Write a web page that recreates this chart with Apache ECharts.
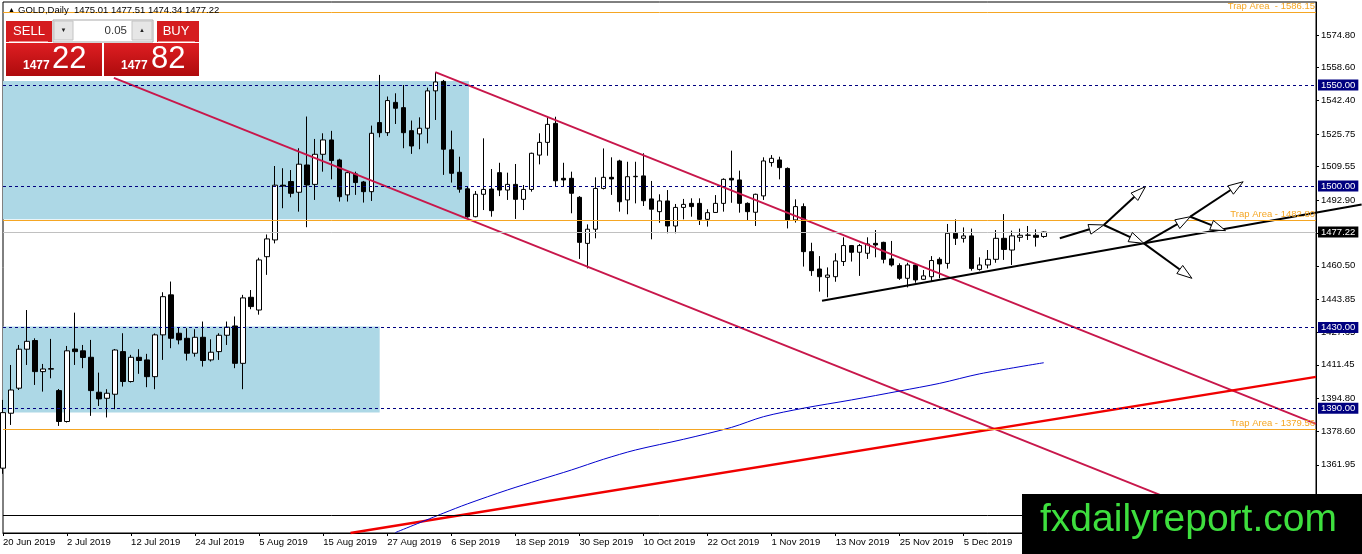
<!DOCTYPE html>
<html lang="en">
<head>
<meta charset="UTF-8">
<title>GOLD,Daily</title>
<script src="https://cdn.jsdelivr.net/npm/echarts@6.0.0/dist/echarts.min.js"></script>
<style>
  html, body { margin: 0; padding: 0; background: #fff; }
  #chart { width: 1362px; height: 554px; }
</style>
</head>
<body>
<div id="chart"></div>
<script>
// trading days on the chart (2019)
var junDays = [20, 21, 24, 25, 26, 27, 28];
var julDays = [1, 2, 3, 4, 5, 8, 9, 10, 11, 12, 15, 16, 17, 18, 19, 22, 23, 24, 25, 26, 29, 30, 31];
var augDays = [1, 2, 5, 6, 7, 8, 9, 12, 13, 14, 15, 16, 19, 20, 21, 22, 23, 26, 27, 28, 29, 30];
var sepDays = [2, 3, 4, 5, 6, 9, 10, 11, 12, 13, 16, 17, 18, 19, 20, 23, 24, 25, 26, 27, 30];
var octDays = [1, 2, 3, 4, 7, 8, 9, 10, 11, 14, 15, 16, 17, 18, 21, 22, 23, 24, 25, 28, 29, 30, 31];
var novDays = [1, 4, 5, 6, 7, 8, 11, 12, 13, 14, 15, 18, 19, 20, 21, 22, 25, 26, 27, 28, 29];
var decDays = [2, 3, 4, 5, 6, 9, 10, 11, 12, 13, 16, 17, 18, 19];
var emptyBarsRight = 34; // chart shift space after the last bar

// daily candles [open, high, low, close]
var ohlc = [
  [1360.3, 1394.1, 1357.5, 1387.8], [1387.5, 1411.4, 1381.7, 1399.0], [1399.9, 1421.3, 1399.0, 1419.2],
  [1419.2, 1438.6, 1411.4, 1423.1], [1423.5, 1424.6, 1401.5, 1408.1], [1408.1, 1411.9, 1398.2, 1409.4],
  [1409.3, 1424.3, 1404.8, 1409.6], [1398.7, 1399.5, 1381.2, 1383.4], [1383.4, 1420.8, 1382.9, 1418.4],
  [1419.3, 1437.3, 1411.4, 1418.0], [1418.4, 1421.3, 1409.8, 1415.1], [1415.2, 1423.8, 1386.2, 1398.7],
  [1397.9, 1407.6, 1391.1, 1394.6], [1394.9, 1399.4, 1385.4, 1397.4], [1396.9, 1419.3, 1389.5, 1418.8],
  [1418.0, 1427.1, 1400.7, 1403.2], [1403.2, 1416.4, 1402.7, 1415.2], [1415.2, 1419.2, 1407.0, 1413.6],
  [1413.9, 1416.9, 1400.4, 1405.6], [1405.6, 1427.0, 1399.4, 1426.3], [1426.3, 1447.4, 1413.9, 1445.2],
  [1446.1, 1452.7, 1419.7, 1424.6], [1427.1, 1430.1, 1421.6, 1423.8], [1424.6, 1429.6, 1413.6, 1417.2],
  [1417.2, 1429.1, 1415.5, 1425.1], [1425.1, 1432.9, 1410.6, 1413.6], [1413.9, 1424.1, 1413.1, 1417.7],
  [1418.0, 1427.1, 1413.9, 1426.1], [1426.1, 1432.9, 1421.3, 1430.1], [1430.7, 1435.4, 1409.8, 1412.2],
  [1412.2, 1446.1, 1399.4, 1444.6], [1444.9, 1448.5, 1439.0, 1440.3], [1438.6, 1464.5, 1436.3, 1463.4],
  [1465.0, 1476.0, 1456.0, 1473.8], [1473.3, 1509.9, 1471.6, 1500.4], [1500.4, 1508.8, 1489.0, 1500.0],
  [1502.2, 1507.9, 1494.4, 1496.4], [1496.9, 1518.7, 1487.3, 1510.8], [1510.4, 1534.4, 1479.6, 1500.5],
  [1500.8, 1523.3, 1493.1, 1515.7], [1515.7, 1526.1, 1507.1, 1522.8], [1522.8, 1527.3, 1503.3, 1512.6],
  [1512.9, 1513.5, 1492.3, 1494.7], [1495.6, 1507.2, 1492.3, 1506.6], [1506.0, 1507.1, 1495.6, 1501.7],
  [1502.0, 1502.5, 1491.8, 1497.2], [1497.2, 1529.9, 1492.6, 1526.1], [1531.4, 1555.0, 1524.1, 1526.4],
  [1526.4, 1544.3, 1524.8, 1542.3], [1541.4, 1545.9, 1530.7, 1538.5], [1538.8, 1550.0, 1518.7, 1526.4],
  [1527.4, 1532.4, 1515.9, 1519.8], [1525.8, 1534.0, 1518.2, 1528.6], [1528.6, 1548.7, 1521.1, 1547.1],
  [1547.1, 1556.3, 1532.7, 1551.5], [1551.8, 1552.5, 1505.5, 1518.2], [1517.9, 1527.4, 1501.7, 1506.3],
  [1506.8, 1514.5, 1496.7, 1498.4], [1498.6, 1500.0, 1484.3, 1484.8], [1484.8, 1497.5, 1484.5, 1495.9],
  [1495.9, 1523.6, 1488.1, 1498.3], [1498.5, 1508.4, 1484.8, 1487.8], [1506.6, 1511.5, 1495.0, 1498.0],
  [1498.0, 1506.6, 1493.1, 1500.8], [1500.8, 1510.9, 1483.7, 1493.4], [1493.4, 1500.5, 1488.1, 1498.3],
  [1498.3, 1516.5, 1497.2, 1516.2], [1515.3, 1526.1, 1510.7, 1521.6], [1521.6, 1534.3, 1515.0, 1530.5],
  [1531.0, 1534.3, 1500.0, 1502.6], [1503.8, 1511.5, 1500.0, 1503.0], [1503.8, 1507.1, 1486.5, 1496.4],
  [1494.4, 1495.0, 1463.9, 1472.1], [1471.6, 1481.0, 1459.2, 1478.6], [1478.6, 1504.3, 1474.1, 1498.8],
  [1498.8, 1518.6, 1498.3, 1504.3], [1504.3, 1514.2, 1495.6, 1503.5], [1512.4, 1513.0, 1487.3, 1492.2],
  [1493.1, 1512.0, 1486.0, 1504.6], [1504.6, 1512.0, 1491.4, 1504.8], [1505.0, 1516.2, 1490.1, 1492.7],
  [1493.6, 1502.5, 1473.6, 1488.5], [1487.3, 1495.9, 1481.8, 1492.6], [1492.6, 1498.0, 1476.6, 1480.2],
  [1480.2, 1491.1, 1476.6, 1489.4], [1489.4, 1493.6, 1483.5, 1490.9], [1491.4, 1493.9, 1484.8, 1489.8],
  [1491.4, 1493.9, 1480.7, 1483.5], [1483.5, 1488.5, 1479.9, 1486.8], [1486.9, 1495.5, 1486.8, 1491.4],
  [1491.4, 1503.8, 1487.3, 1503.3], [1503.8, 1517.5, 1491.7, 1503.0], [1503.0, 1507.6, 1486.8, 1491.4],
  [1491.4, 1491.9, 1483.1, 1487.3], [1487.0, 1496.2, 1480.2, 1495.9], [1495.1, 1514.2, 1493.1, 1512.4],
  [1511.6, 1515.3, 1509.6, 1513.7], [1512.9, 1514.5, 1503.3, 1509.1], [1508.7, 1509.2, 1479.0, 1483.2],
  [1483.2, 1493.4, 1481.9, 1489.8], [1489.8, 1491.4, 1460.1, 1467.5], [1467.5, 1471.9, 1455.5, 1458.1],
  [1458.9, 1465.3, 1447.7, 1455.1], [1454.8, 1459.7, 1444.9, 1455.9], [1455.1, 1466.7, 1452.6, 1462.9],
  [1462.6, 1474.6, 1460.4, 1470.5], [1470.5, 1470.8, 1462.6, 1467.2], [1467.2, 1471.3, 1455.5, 1470.5],
  [1466.7, 1474.6, 1463.9, 1471.3], [1471.6, 1478.2, 1464.7, 1470.8], [1472.1, 1472.4, 1461.7, 1463.7],
  [1463.9, 1472.8, 1460.1, 1460.9], [1460.6, 1461.7, 1453.5, 1454.3], [1454.3, 1462.0, 1449.8, 1460.9],
  [1460.9, 1461.7, 1452.1, 1453.5], [1453.8, 1458.4, 1453.5, 1455.5], [1455.1, 1465.3, 1452.6, 1463.1],
  [1463.7, 1464.7, 1454.3, 1461.4], [1461.7, 1481.2, 1459.1, 1476.6], [1476.6, 1483.5, 1470.8, 1474.1],
  [1474.1, 1479.5, 1472.0, 1475.3], [1475.3, 1478.9, 1458.1, 1459.2], [1458.7, 1464.7, 1458.1, 1460.9],
  [1460.9, 1468.3, 1459.2, 1463.7], [1463.7, 1478.2, 1462.0, 1474.1], [1474.1, 1486.1, 1463.4, 1468.6],
  [1468.3, 1477.9, 1460.9, 1475.3], [1474.6, 1478.9, 1472.4, 1475.6], [1475.6, 1480.2, 1473.3, 1475.7],
  [1475.6, 1478.5, 1470.0, 1474.6], [1475.01, 1477.51, 1474.34, 1477.22]
];

// moving average, read at a few bars [bar, price]
var maPoints = [
  [49, 1328.4], [55, 1338.0], [58, 1342.6], [63, 1349.5], [67, 1354.5], [71, 1359.4],
  [75, 1364.7], [79, 1369.3], [85, 1374.6], [91, 1380.5], [95, 1385.8], [100, 1390.0],
  [106, 1394.1], [112, 1398.5], [117, 1402.3], [122, 1407.0], [130, 1412.5]
];

// drawn objects, in [bar, price]
var channelTop = [[54.0, 1556.4], [164, 1382.2]];
var channelBottom = [[13.85, 1553.5], [146, 1344.7]];
var redTrend = [[43.4, 1328.2], [164, 1405.5]];
var supportLine = [[102.3, 1443.2], [169.7, 1490.8]];
var arrows = [
  [132.0, 1474.1, 137.5, 1480.7], [137.5, 1480.7, 142.7, 1499.7], [137.5, 1480.7, 142.5, 1471.6],
  [142.5, 1471.6, 148.5, 1454.3], [142.5, 1471.6, 148.3, 1484.8], [148.3, 1484.8, 154.9, 1502.1],
  [148.3, 1484.8, 152.7, 1477.9]
];
var zoneTop = [[0, 1552.0], [58.2, 1483.6]];
var zoneBottom = [[0, 1430.4], [47.05, 1387.8]];

var levels = [1550, 1500, 1430, 1390];
var trapLevels = [1586.15, 1482.80, 1379.56];
var trapGaps = ['  ', ' ', ' '];
var bidPrice = 1477.22;
var blackLevel = 1337.0;

var priceTicks = [1574.80, 1558.60, 1542.40, 1525.75, 1509.55, 1492.90, 1476.70, 1460.50,
  1443.85, 1427.65, 1411.45, 1394.80, 1378.60, 1361.95, 1345.30];

var months = [['Jun', junDays], ['Jul', julDays], ['Aug', augDays], ['Sep', sepDays],
  ['Oct', octDays], ['Nov', novDays], ['Dec', decDays]];
var dates = [];
months.forEach(function (m) {
  m[1].forEach(function (d) { dates.push(d + ' ' + m[0] + ' 2019'); });
});
var categories = dates.slice();
for (var i = 0; i < emptyBarsRight; i++) categories.push('e' + i);
var lastBar = categories.length - 1;

var candleData = ohlc.map(function (r) { return [r[0], r[3], r[2], r[1]]; });

var FONT = '"Liberation Sans", Arial, sans-serif';
var TRAP = '#F5A623';

var markLines = [];
levels.forEach(function (v) {
  markLines.push({
    yAxis: v,
    lineStyle: { color: '#000080', type: [3, 3], width: 1 },
    label: { show: true, position: 'end', formatter: v.toFixed(2), color: '#fff',
      backgroundColor: '#000080', padding: [1, 3, 0, 3], distance: 2, fontSize: 9.5, fontFamily: FONT }
  });
});
trapLevels.forEach(function (v, k) {
  markLines.push({
    yAxis: v,
    lineStyle: { color: TRAP, type: 'solid', width: 1, opacity: 1 },
    label: { show: true, position: 'insideEndTop', formatter: 'Trap Area' + trapGaps[k] + '- ' + v.toFixed(2),
      color: TRAP, distance: 1, fontSize: 9.5, fontFamily: FONT }
  });
});
markLines.push({
  yAxis: bidPrice,
  lineStyle: { color: '#C0C0C0', type: 'solid', width: 1 },
  label: { show: true, position: 'end', formatter: bidPrice.toFixed(2), color: '#fff',
    backgroundColor: '#000', padding: [1, 3, 0, 3], distance: 2, fontSize: 9.5, fontFamily: FONT }
});
markLines.push({
  yAxis: blackLevel,
  lineStyle: { color: '#000', type: 'solid', width: 1 },
  label: { show: false }
});

// straight drawn line between two [bar, price] points, not clipped to the plot
function trend(seg, color, width) {
  return {
    type: 'custom', xAxisIndex: 1, yAxisIndex: 0, clip: false, z: 4, silent: true,
    data: [[seg[0][0], seg[0][1], seg[1][0], seg[1][1]]],
    encode: { x: [0, 2], y: [1, 3] },
    renderItem: function (params, api) {
      var a = api.coord([api.value(0), api.value(1)]);
      var b = api.coord([api.value(2), api.value(3)]);
      return { type: 'line', shape: { x1: a[0], y1: a[1], x2: b[0], y2: b[1] },
        style: { stroke: color, lineWidth: width } };
    }
  };
}

function renderArrow(params, api) {
  var p1 = api.coord([api.value(0), api.value(1)]);
  var p2 = api.coord([api.value(2), api.value(3)]);
  var dx = p2[0] - p1[0], dy = p2[1] - p1[1];
  var len = Math.sqrt(dx * dx + dy * dy);
  var ux = dx / len, uy = dy / len;
  var headLen = 15, headW = 5;
  var bx = p2[0] - ux * headLen, by = p2[1] - uy * headLen;
  return {
    type: 'group',
    children: [
      { type: 'line', shape: { x1: p1[0], y1: p1[1], x2: bx, y2: by },
        style: { stroke: '#000', lineWidth: 2 } },
      { type: 'polygon',
        shape: { points: [[p2[0], p2[1]], [bx - uy * headW, by + ux * headW], [bx + uy * headW, by - ux * headW]] },
        style: { fill: '#fff', stroke: '#000', lineWidth: 1 } }
    ]
  };
}

var redGrad = function () {
  return new echarts.graphic.LinearGradient(0, 0, 0, 1, [
    { offset: 0, color: '#DE1E22' }, { offset: 1, color: '#AE0B0D' }
  ]);
};

var panel = [
  { type: 'text', x: 8, y: 10, style: { text: '▲', fill: '#000', font: '7px ' + FONT, verticalAlign: 'middle' } },
  { type: 'text', x: 18, y: 10, style: { text: 'GOLD,Daily  1475.01 1477.51 1474.34 1477.22', fill: '#000',
    font: '9.5px ' + FONT, verticalAlign: 'middle' } },
  { type: 'rect', shape: { x: 6, y: 21, width: 46, height: 21 }, style: { fill: '#D51C1F' } },
  { type: 'line', shape: { x1: 9, y1: 41.5, x2: 48, y2: 41.5 }, style: { stroke: '#F08A8A', lineWidth: 1 } },
  { type: 'text', x: 29, y: 31, style: { text: 'SELL', fill: '#fff', font: '13px "Liberation Sans Narrow", ' + FONT,
    align: 'center', verticalAlign: 'middle' } },
  { type: 'rect', shape: { x: 53, y: 20, width: 100, height: 22 }, style: { fill: '#fff', stroke: '#A9A9A9', lineWidth: 1 } },
  { type: 'rect', shape: { x: 54, y: 21, width: 19, height: 19 }, style: { fill: '#E6E6E6', stroke: '#C4C4C4', lineWidth: 1 } },
  { type: 'rect', shape: { x: 132, y: 21, width: 20, height: 19 }, style: { fill: '#E6E6E6', stroke: '#C4C4C4', lineWidth: 1 } },
  { type: 'text', x: 63.5, y: 30.5, style: { text: '▼', fill: '#222', font: '6px ' + FONT, align: 'center', verticalAlign: 'middle' } },
  { type: 'text', x: 142, y: 30.5, style: { text: '▲', fill: '#222', font: '6px ' + FONT, align: 'center', verticalAlign: 'middle' } },
  { type: 'text', x: 127, y: 30.5, style: { text: '0.05', fill: '#333', font: '11.5px ' + FONT, align: 'right', verticalAlign: 'middle' } },
  { type: 'rect', shape: { x: 157, y: 21, width: 42, height: 21 }, style: { fill: '#D51C1F' } },
  { type: 'line', shape: { x1: 158, y1: 41.5, x2: 195, y2: 41.5 }, style: { stroke: '#F08A8A', lineWidth: 1 } },
  { type: 'text', x: 176, y: 31, style: { text: 'BUY', fill: '#fff', font: '13px "Liberation Sans Narrow", ' + FONT,
    align: 'center', verticalAlign: 'middle' } },
  { type: 'rect', shape: { x: 6, y: 43, width: 96, height: 33 }, style: { fill: redGrad() } },
  { type: 'rect', shape: { x: 104, y: 43, width: 95, height: 33 }, style: { fill: redGrad() } },
  { type: 'text', x: 23, y: 65.5, style: { text: '1477', fill: '#fff', font: 'bold 12px ' + FONT, verticalAlign: 'middle' } },
  { type: 'text', x: 52, y: 59, style: { text: '22', fill: '#fff', font: '31px ' + FONT, verticalAlign: 'middle' } },
  { type: 'text', x: 121, y: 65.5, style: { text: '1477', fill: '#fff', font: 'bold 12px ' + FONT, verticalAlign: 'middle' } },
  { type: 'text', x: 151, y: 59, style: { text: '82', fill: '#fff', font: '31px ' + FONT, verticalAlign: 'middle' } },
  { type: 'rect', shape: { x: 1022, y: 494, width: 340, height: 60 }, style: { fill: '#000' } },
  { type: 'text', x: 1040, y: 520, style: { text: 'fxdailyreport.com', fill: '#3EDF3E', font: '39px ' + FONT,
    verticalAlign: 'middle' } }
];
panel.forEach(function (el) { el.z = 100; el.silent = true; });

var chart = echarts.init(document.getElementById('chart'));
chart.setOption({
  animation: false,
  backgroundColor: '#fff',
  grid: { left: 2, right: 46, top: 2, bottom: 21, show: true, borderColor: '#000', borderWidth: 1, backgroundColor: '#fff' },
  xAxis: [{
    type: 'category', data: categories, boundaryGap: false,
    axisLine: { onZero: false, lineStyle: { color: '#000', width: 1 } },
    axisTick: { interval: 7, length: 3, lineStyle: { color: '#000' } },
    axisLabel: {
      interval: 7, align: 'left', margin: 4, color: '#000', fontSize: 9.5, fontFamily: FONT,
      formatter: function (v, idx) { return idx < dates.length ? v : ''; }
    },
    splitLine: { show: false }
  }, {
    type: 'value', min: 0, max: lastBar, show: false,
    axisLine: { onZero: false }
  }],
  yAxis: {
    type: 'value', position: 'right', min: 1328.2, max: 1591.1, scale: true,
    axisLine: { show: true, onZero: false, lineStyle: { color: '#000', width: 1 } },
    axisTick: { show: true, length: 3, lineStyle: { color: '#000' }, customValues: priceTicks },
    axisLabel: { color: '#000', fontSize: 9.5, fontFamily: FONT, margin: 5, customValues: priceTicks,
      formatter: function (v) { return v.toFixed(2); } },
    splitLine: { show: false }
  },
  graphic: { elements: panel },
  series: [
    {
      type: 'line', xAxisIndex: 1, yAxisIndex: 0, data: [], z: 1, silent: true,
      markArea: {
        silent: true,
        itemStyle: { color: '#ADD8E6', opacity: 1 },
        data: [
          [{ coord: zoneTop[0] }, { coord: zoneTop[1] }],
          [{ coord: zoneBottom[0] }, { coord: zoneBottom[1] }]
        ]
      },
      markLine: { silent: true, symbol: ['none', 'none'], data: markLines }
    },
    {
      type: 'candlestick', xAxisIndex: 0, yAxisIndex: 0, data: candleData, barWidth: 5, z: 3, clip: false,
      itemStyle: { color: '#fff', color0: '#000', borderColor: '#000', borderColor0: '#000', borderWidth: 1 }
    },
    {
      type: 'line', xAxisIndex: 1, yAxisIndex: 0, data: maPoints, symbol: 'none', smooth: 0.3, z: 4,
      silent: true, lineStyle: { color: '#0000CD', width: 1 }
    },
    trend(channelTop, '#C8174B', 2),
    trend(channelBottom, '#C8174B', 2),
    trend(redTrend, '#F00000', 2.5),
    trend(supportLine, '#000', 2),
    {
      type: 'custom', xAxisIndex: 1, yAxisIndex: 0, data: arrows, renderItem: renderArrow,
      encode: { x: [0, 2], y: [1, 3] }, clip: false, z: 5, silent: true
    }
  ]
});
</script>
</body>
</html>
